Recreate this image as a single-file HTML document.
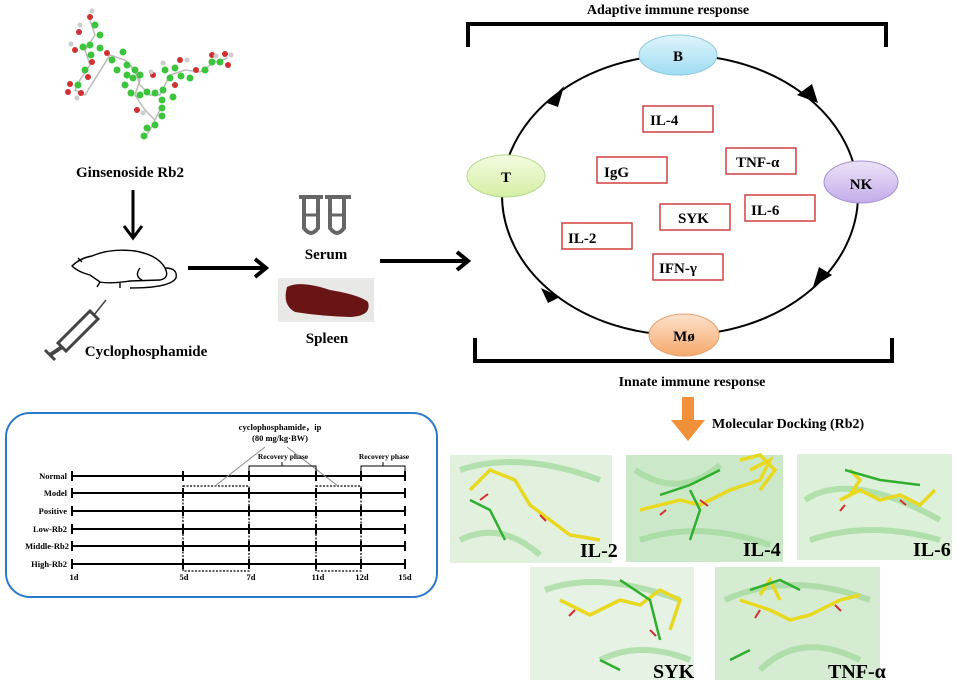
<!DOCTYPE html>
<html><head><meta charset="utf-8"><style>
html,body{margin:0;padding:0;background:#fff;}
svg{display:block;font-family:"Liberation Serif",serif;font-weight:bold;}
</style></head><body>
<svg width="955" height="685" viewBox="0 0 955 685" xmlns="http://www.w3.org/2000/svg">
<defs>
<linearGradient id="gB" x1="0" y1="0" x2="0" y2="1"><stop offset="0" stop-color="#dff4fb"/><stop offset="1" stop-color="#9fdcf2"/></linearGradient>
<linearGradient id="gT" x1="0" y1="0" x2="0" y2="1"><stop offset="0" stop-color="#f3fbe0"/><stop offset="1" stop-color="#d6eea4"/></linearGradient>
<linearGradient id="gN" x1="0" y1="0" x2="0" y2="1"><stop offset="0" stop-color="#ece3f8"/><stop offset="1" stop-color="#c3acea"/></linearGradient>
<linearGradient id="gM" x1="0" y1="0" x2="0" y2="1"><stop offset="0" stop-color="#fde2cc"/><stop offset="1" stop-color="#f6a96c"/></linearGradient>
</defs>

<!-- molecule -->
<g stroke="#bbb" stroke-width="1.5">
<polyline fill="none" points="90,20 95,35 85,50 90,65 80,80 75,90 85,95 110,55 125,60 135,70 140,85 150,95 160,95 170,75 185,70 200,72 215,62 228,58"/>
<polyline fill="none" points="130,65 140,80 135,95 145,110 155,120 160,110 150,130 145,137"/>
</g>
<g fill="#3cc43c">
<circle cx="95" cy="25" r="3.5"/><circle cx="100" cy="35" r="3.5"/><circle cx="90" cy="45" r="3.5"/><circle cx="83" cy="47" r="3.5"/><circle cx="100" cy="48" r="3.5"/><circle cx="91" cy="55" r="3.5"/><circle cx="85" cy="70" r="3.5"/><circle cx="78" cy="85" r="3.5"/><circle cx="112" cy="60" r="3.5"/><circle cx="117" cy="70" r="3.5"/><circle cx="123" cy="52" r="3.5"/><circle cx="127" cy="65" r="3.5"/><circle cx="135" cy="70" r="3.5"/><circle cx="127" cy="75" r="3.5"/><circle cx="133" cy="78" r="3.5"/><circle cx="140" cy="75" r="3.5"/><circle cx="125" cy="85" r="3.5"/><circle cx="131" cy="93" r="3.5"/><circle cx="140" cy="95" r="3.5"/><circle cx="147" cy="92" r="3.5"/><circle cx="155" cy="93" r="3.5"/><circle cx="163" cy="90" r="3.5"/><circle cx="173" cy="97" r="3.5"/><circle cx="162" cy="100" r="3.5"/><circle cx="162" cy="108" r="3.5"/><circle cx="162" cy="116" r="3.5"/><circle cx="155" cy="125" r="3.5"/><circle cx="147" cy="128" r="3.5"/><circle cx="144" cy="136" r="3.5"/><circle cx="165" cy="70" r="3.5"/><circle cx="175" cy="68" r="3.5"/><circle cx="170" cy="78" r="3.5"/><circle cx="181" cy="76" r="3.5"/><circle cx="190" cy="78" r="3.5"/><circle cx="205" cy="70" r="3.5"/><circle cx="212" cy="62" r="3.5"/><circle cx="220" cy="62" r="3.5"/></g>
<g fill="#d03030">
<circle cx="90" cy="17" r="3"/><circle cx="79" cy="32" r="3"/><circle cx="75" cy="50" r="3"/><circle cx="92" cy="62" r="3"/><circle cx="88" cy="77" r="3"/><circle cx="70" cy="84" r="3"/><circle cx="68" cy="92" r="3"/><circle cx="81" cy="93" r="3"/><circle cx="107" cy="53" r="3"/><circle cx="153" cy="75" r="3"/><circle cx="137" cy="110" r="3"/><circle cx="175" cy="85" r="3"/><circle cx="196" cy="70" r="3"/><circle cx="180" cy="60" r="3"/><circle cx="212" cy="55" r="3"/><circle cx="225" cy="54" r="3"/><circle cx="228" cy="65" r="3"/></g>
<g fill="#ccc"><circle cx="92" cy="11" r="2.5"/><circle cx="80" cy="25" r="2.5"/><circle cx="71" cy="44" r="2.5"/><circle cx="77" cy="98" r="2.5"/><circle cx="143" cy="113" r="2.5"/><circle cx="151" cy="72" r="2.5"/><circle cx="163" cy="63" r="2.5"/><circle cx="187" cy="60" r="2.5"/><circle cx="216" cy="56" r="2.5"/><circle cx="231" cy="55" r="2.5"/></g>

<text x="130" y="177" font-size="15" text-anchor="middle">Ginsenoside Rb2</text>
<line x1="133" y1="190" x2="133" y2="236" stroke="#000" stroke-width="3"/>
<path d="M124,226 L133,238 L142,226" fill="none" stroke="#000" stroke-width="3"/>

<!-- mouse -->
<g fill="none" stroke="#000" stroke-width="1.4">
<path d="M72,266 Q80,258 92,256 Q110,248 135,251 Q158,255 165,268 Q170,278 160,280 L130,281 Q110,284 100,282 L90,275 Q78,272 72,266 Z"/>
<path d="M165,268 Q178,268 176,278 Q170,288 130,288"/>
<path d="M140,268 Q134,276 142,280"/><path d="M82,262 l-4,-4"/>
<path d="M100,282 l-3,5 M120,283 l0,5"/>
</g>
<!-- syringe -->
<g stroke="#444" fill="none" stroke-width="3">
<path d="M58,343 L90,311 L98,319 L66,351 Z" fill="#fff"/>
<line x1="94" y1="315" x2="106" y2="300" stroke-width="1.5"/>
<line x1="62" y1="347" x2="50" y2="355" stroke-width="4"/>
<line x1="45" y1="350" x2="55" y2="360" stroke-width="3"/>
</g>
<text x="146" y="356" font-size="15" text-anchor="middle">Cyclophosphamide</text>

<line x1="188" y1="268" x2="264" y2="268" stroke="#000" stroke-width="4"/>
<path d="M255,259 L266,268 L255,277" fill="none" stroke="#000" stroke-width="4"/>

<!-- tubes -->
<g fill="none" stroke="#666" stroke-width="4">
<path d="M304,197 L304,228 Q311,238 318,228 L318,197"/><path d="M330,197 L330,228 Q337,238 344,228 L344,197"/>
<line x1="299" y1="197" x2="323" y2="197"/><line x1="325" y1="197" x2="351" y2="197"/>
<line x1="304" y1="215" x2="318" y2="215" stroke-width="3"/><line x1="330" y1="215" x2="344" y2="215" stroke-width="3"/>
</g>
<text x="326" y="259" font-size="15" text-anchor="middle">Serum</text>
<rect x="278" y="278" width="96" height="44" fill="#e8e8e6"/>
<path d="M287,287 Q300,280 330,290 Q360,295 368,302 Q372,316 350,317 Q320,316 295,312 Q282,305 287,287 Z" fill="#6a1515"/>
<text x="327" y="343" font-size="15" text-anchor="middle">Spleen</text>

<line x1="380" y1="261" x2="466" y2="261" stroke="#000" stroke-width="4"/>
<path d="M457,252 L468,261 L457,270" fill="none" stroke="#000" stroke-width="4"/>

<!-- immune cycle -->
<text x="668" y="14" font-size="14" text-anchor="middle">Adaptive immune response</text>
<path d="M468,47 L468,24 L886,24 L886,47" fill="none" stroke="#000" stroke-width="4"/>
<ellipse cx="680" cy="195" rx="178" ry="140" fill="none" stroke="#000" stroke-width="2"/>
<path d="M547,103 L564,86 L558,107 Z" fill="#000"/>
<path d="M797,95 L818,103 L812,84 Z" fill="#000"/>
<path d="M832,275 L813,287 L819,267 Z" fill="#000"/>
<path d="M541,288 L560,297 L548,303 Z" fill="#000"/>
<ellipse cx="678" cy="55" rx="39" ry="20" fill="url(#gB)" stroke="#8cc8e0"/>
<text x="678" y="61" font-size="15" text-anchor="middle">B</text>
<ellipse cx="506" cy="176" rx="39" ry="21" fill="url(#gT)" stroke="#b5d890"/>
<text x="506" y="182" font-size="15" text-anchor="middle">T</text>
<ellipse cx="861" cy="182" rx="37" ry="21" fill="url(#gN)" stroke="#a890d0"/>
<text x="861" y="189" font-size="15" text-anchor="middle">NK</text>
<ellipse cx="684" cy="335" rx="35" ry="21" fill="url(#gM)" stroke="#e8a070"/>
<text x="684" y="341" font-size="15" text-anchor="middle">Mø</text>
<g fill="#fff" stroke="#d04040" stroke-width="1.5">
<rect x="643" y="106" width="70" height="26"/><rect x="726" y="148" width="70" height="26"/><rect x="597" y="157" width="70" height="26"/><rect x="745" y="195" width="70" height="26"/><rect x="660" y="204" width="70" height="26"/><rect x="562" y="223" width="70" height="26"/><rect x="653" y="254" width="70" height="26"/>
</g>
<g font-size="15">
<text x="650" y="125">IL-4</text><text x="736" y="167">TNF-α</text><text x="604" y="177">IgG</text><text x="751" y="215">IL-6</text><text x="678" y="223">SYK</text><text x="568" y="243">IL-2</text><text x="659" y="273">IFN-γ</text>
</g>
<path d="M475,338 L475,361 L892,361 L892,338" fill="none" stroke="#000" stroke-width="4"/>
<text x="692" y="386" font-size="14" text-anchor="middle">Innate immune response</text>

<!-- orange arrow -->
<path d="M682,397 L694,397 L694,420 L705,420 L688,441 L671,420 L682,420 Z" fill="#f0913a"/>
<text x="712" y="428" font-size="14">Molecular Docking (Rb2)</text>

<!-- docking panels -->
<g>
<rect x="450" y="455" width="162" height="108" fill="#e2f1de"/>
<rect x="626" y="455" width="157" height="107" fill="#cbe8c8"/>
<rect x="797" y="454" width="155" height="106" fill="#ddf0d9"/>
<rect x="530" y="567" width="164" height="113" fill="#e6f2e3"/>
<rect x="715" y="567" width="165" height="113" fill="#d6ecd2"/>
<g fill="none" stroke="#9fd89a" stroke-width="6" opacity="0.7">
<path d="M460,470 Q520,450 600,480"/><path d="M460,540 Q500,520 540,555"/>
<path d="M635,470 Q680,500 720,465"/><path d="M640,540 Q700,520 770,545"/>
<path d="M805,500 Q850,470 940,520"/><path d="M810,540 Q870,520 940,540"/>
<path d="M545,590 Q600,570 680,600"/><path d="M600,660 Q640,640 690,660"/>
<path d="M725,600 Q790,570 870,600"/><path d="M760,670 Q800,630 860,660"/>
</g>
<g fill="none" stroke="#e8d820" stroke-width="3.5">
<polyline points="470,490 490,470 515,480 530,505 550,520 570,535 600,540"/>
<polyline points="640,510 680,500 700,505 730,490 760,480 770,460 750,470"/>
<polyline points="740,460 760,455 775,470 760,490"/>
<polyline points="840,500 860,490 880,500 900,495 920,505 935,490"/>
<polyline points="850,470 860,480 850,495"/>
<polyline points="560,600 590,615 620,600 640,605 660,590 680,600 670,630"/>
<polyline points="740,600 770,610 790,620 810,615 840,600 860,595"/>
<polyline points="760,595 770,580 780,600"/>
</g>
<g fill="none" stroke="#d03030" stroke-width="2">
<path d="M480,500 l8,-6 M540,515 l6,6 M660,515 l6,-5 M700,500 l8,6 M845,505 l-5,6 M900,500 l6,5 M575,610 l-6,6 M650,630 l6,6 M760,610 l-5,8 M835,605 l6,6"/>
</g>
<g fill="none" stroke="#2fae2f" stroke-width="2.5">
<polyline points="470,500 490,510 505,540"/><polyline points="660,495 690,485 720,470"/><polyline points="690,490 700,510 690,540"/><polyline points="845,470 880,480 920,485"/><polyline points="620,580 650,600 660,640"/><polyline points="600,660 620,670"/><polyline points="750,590 780,580 800,590"/><polyline points="730,660 750,650"/>
</g>
<g font-size="20">
<text x="580" y="557">IL-2</text><text x="743" y="556">IL-4</text><text x="913" y="556">IL-6</text><text x="653" y="678">SYK</text><text x="828" y="678">TNF-α</text>
</g>
</g>

<!-- timeline box -->
<rect x="6" y="413" width="431" height="184" rx="24" fill="#fff" stroke="#2b79c9" stroke-width="2"/>
<g font-size="8.5" text-anchor="end">
<text x="67" y="479">Normal</text><text x="67" y="496">Model</text><text x="67" y="514">Positive</text><text x="67" y="532">Low-Rb2</text><text x="69" y="549">Middle-Rb2</text><text x="67" y="567">High-Rb2</text>
</g>
<g stroke="#000" stroke-width="2">
<line x1="72" y1="476" x2="405" y2="476"/><line x1="72" y1="493" x2="405" y2="493"/><line x1="72" y1="511" x2="405" y2="511"/><line x1="72" y1="529" x2="405" y2="529"/><line x1="72" y1="546" x2="405" y2="546"/><line x1="72" y1="564" x2="405" y2="564"/>
</g>
<g stroke="#000" stroke-width="2">
<path d="M72,471v10M183,471v10M249,471v10M316,471v10M361,471v10M405,471v10"/>
<path d="M72,488v10M183,488v10M249,488v10M316,488v10M361,488v10M405,488v10"/>
<path d="M72,506v10M183,506v10M249,506v10M316,506v10M361,506v10M405,506v10"/>
<path d="M72,524v10M183,524v10M249,524v10M316,524v10M361,524v10M405,524v10"/>
<path d="M72,541v10M183,541v10M249,541v10M316,541v10M361,541v10M405,541v10"/>
<path d="M72,559v10M183,559v10M249,559v10M316,559v10M361,559v10M405,559v10"/>
</g>
<g fill="none" stroke="#000" stroke-width="1.2" stroke-dasharray="2,1.5">
<rect x="183" y="486" width="66" height="85"/><rect x="316" y="486" width="45" height="85"/>
</g>
<g fill="none" stroke="#888" stroke-width="1">
<line x1="265" y1="447" x2="215" y2="486"/><line x1="287" y1="447" x2="338" y2="486"/>
</g>
<g fill="none" stroke="#000" stroke-width="1">
<path d="M249,472 v-6 h67 v6 M282,466 v-4"/><path d="M361,472 v-6 h44 v6 M383,466 v-4"/>
</g>
<g font-size="8.5" text-anchor="middle">
<text x="280" y="430">cyclophosphamide，ip</text><text x="280" y="441">(80 mg/kg·BW)</text>
<text x="283" y="459" font-size="7.5">Recovery phase</text><text x="384" y="459" font-size="7.5">Recovery phase</text>
<text x="74" y="580">1d</text><text x="184" y="580">5d</text><text x="251" y="580">7d</text><text x="318" y="580">11d</text><text x="362" y="580">12d</text><text x="405" y="580">15d</text>
</g>
</svg>
</body></html>
